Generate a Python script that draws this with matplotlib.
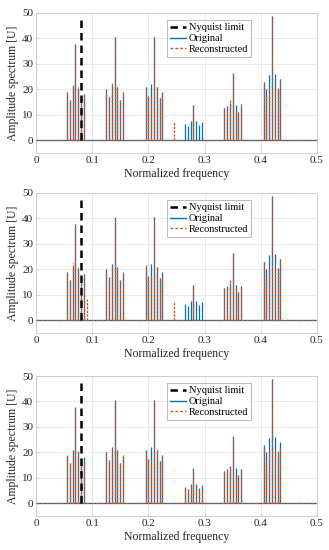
import numpy as np
import matplotlib
matplotlib.use("Agg")
import matplotlib.pyplot as plt

BLUE = "#0072BD"
ORANGE = "#D95319"

plt.rcParams.update({
    "font.family": ["Liberation Serif", "DejaVu Serif"],
    "font.size": 7.5,
    "xtick.direction": "in",
    "ytick.direction": "in",
})

# component frequencies of the original signal (normalized)
freqs = [0.055, 0.060, 0.065, 0.070, 0.075, 0.080, 0.085,
         0.125, 0.130, 0.135, 0.140, 0.145, 0.150, 0.155,
         0.195, 0.200, 0.205, 0.210, 0.215, 0.220, 0.225,
         0.265, 0.270, 0.275, 0.280, 0.285, 0.290, 0.295,
         0.335, 0.340, 0.345, 0.350, 0.355, 0.360, 0.365,
         0.405, 0.410, 0.415, 0.420, 0.425, 0.430, 0.435]

original = [19, 16, 21, 38, 20.5, 16, 18,
            20, 17, 22, 40.5, 21, 16, 19,
            21, 17.5, 22, 40.5, 21, 16.5, 19,
            6.5, 5.5, 7.5, 14, 7.5, 6, 7,
            12.5, 13.5, 14.5, 26.5, 14, 11, 13.5,
            23, 20, 25.5, 49, 26, 20.5, 24]

# reconstructed spectra, one per panel (freq list, amplitude list)
recon1_f = [0.055, 0.060, 0.065, 0.070, 0.075, 0.080, 0.085,
            0.125, 0.130, 0.135, 0.140, 0.145, 0.150, 0.155,
            0.195, 0.200, 0.205, 0.210, 0.215, 0.220, 0.225,
            0.245, 0.280,
            0.335, 0.340, 0.345, 0.350, 0.355, 0.360, 0.365,
            0.405, 0.410, 0.415, 0.420, 0.425, 0.430, 0.435]
recon1_a = [18.5, 16, 22, 37, 21, 16, 18,
            19.5, 17, 22.5, 40.5, 21, 16, 19,
            21, 17.5, 17.5, 40.5, 21, 16.5, 17.5,
            7.5, 12.5,
            12.5, 13.5, 16, 26.5, 11.5, 11, 14.5,
            23, 17, 20.5, 49, 20.5, 20.5, 24]

recon2_f = [0.055, 0.060, 0.065, 0.070, 0.075, 0.080, 0.085, 0.090,
            0.125, 0.130, 0.135, 0.140, 0.145, 0.150, 0.155,
            0.195, 0.200, 0.205, 0.210, 0.215, 0.220, 0.225,
            0.245, 0.280,
            0.335, 0.340, 0.345, 0.350, 0.355, 0.360, 0.365,
            0.405, 0.410, 0.415, 0.420, 0.425, 0.430, 0.435]
recon2_a = [18.5, 16, 22.5, 37, 21, 16, 18, 8.5,
            19.5, 17, 21.5, 40, 21, 16, 19,
            22, 17, 17, 40.5, 21, 16.5, 17,
            7.5, 14,
            12.5, 13, 16, 26.5, 14, 11, 13.5,
            23, 17, 20.5, 49, 21, 20.5, 24]

recon3_f = freqs
recon3_a = [18.5, 16, 20.5, 37, 20, 16, 16,
            20, 17, 21.5, 39.5, 21, 16, 19,
            20.5, 17.5, 17, 40.5, 21, 16.5, 18.5,
            6, 5.5, 7, 13, 7.5, 6, 6.5,
            12.5, 13, 14.5, 26.5, 10, 11, 13,
            22.5, 17, 21, 49, 21, 20.5, 22]

nyquist_f = 0.08
nyquist_top = 48

panels = [(recon1_f, recon1_a), (recon2_f, recon2_a), (recon3_f, recon3_a)]

fig = plt.figure(figsize=(3.29, 5.5), dpi=100)
tops = [13, 193, 376]
ax_h = 140
for (rf, ra), top in zip(panels, tops):
    ax = fig.add_axes([36 / 329, 1 - (top + ax_h) / 550, 281 / 329, ax_h / 550])
    ax.grid(True, color="#e6e6e6", linewidth=0.6)
    ax.set_axisbelow(True)
    ax.axhline(0, color=BLUE, linewidth=0.9, zorder=2)
    ax.vlines(freqs, 0, original, color=BLUE, linewidth=0.9, zorder=2)
    ax.axhline(0, color=ORANGE, linewidth=0.9, linestyle=(0, (2, 2)), zorder=3)
    ax.vlines(rf, 0, ra, color=ORANGE, linewidth=0.9, linestyles=(0, (2, 1)), zorder=3)
    ax.vlines([nyquist_f], 0, nyquist_top, color="black", linewidth=1.8,
              linestyles=(0, (3, 2)), zorder=4)

    # legend proxies
    h1, = ax.plot([], [], color="black", linewidth=1.8, linestyle=(0, (3, 2)))
    h2, = ax.plot([], [], color=BLUE, linewidth=1.0)
    h3, = ax.plot([], [], color=ORANGE, linewidth=1.0, linestyle=(0, (2, 1.5)))
    leg = ax.legend([h1, h2, h3], ["Nyquist limit", "Original", "Reconstructed"],
                    loc="upper left", bbox_to_anchor=(0.465, 0.95),
                    fancybox=False, framealpha=1, edgecolor="#b0b0b0",
                    handlelength=1.6, handletextpad=0.2, borderpad=0.3,
                    labelspacing=0.15, borderaxespad=0, fontsize=7.5)
    leg.get_frame().set_linewidth(0.6)

    ax.set_xlim(0, 0.5)
    ax.set_ylim(-5, 50)
    ax.set_xticks([0, 0.1, 0.2, 0.3, 0.4, 0.5], ["0", "0.1", "0.2", "0.3", "0.4", "0.5"])
    ax.set_yticks([0, 10, 20, 30, 40, 50])
    for s in ax.spines.values():
        s.set_color("#c8c8c8")
        s.set_linewidth(0.6)
    ax.tick_params(colors="#c8c8c8", labelcolor="#262626", length=2, width=0.5, pad=2,
                   labelsize=8)
    ax.set_xlabel("Normalized frequency", fontsize=8.5, color="#262626", labelpad=2)
    ax.set_ylabel("Amplitude spectrum [U]", fontsize=8.5, color="#262626", labelpad=2)

fig.savefig("out.png", dpi=100)
